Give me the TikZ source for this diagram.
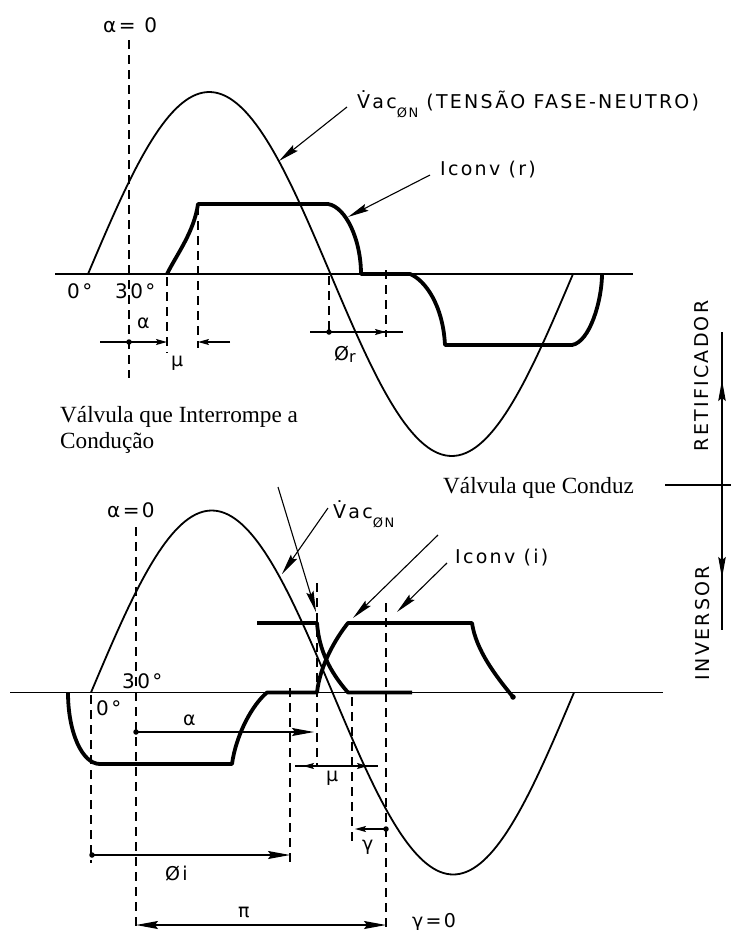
\documentclass[tikz,border=0pt]{standalone}
\usepackage{fontspec}
\setmainfont{Liberation Serif}
\newfontfamily\lett[LetterSpace=12]{DejaVu Sans}
\usetikzlibrary{arrows.meta}
\newcommand\subON{\raisebox{-9pt}{\fontsize{13}{13}\selectfont ØN}}
\tikzset{
  axisline/.style={line width=1.3pt},
  wave/.style={line width=1.8pt},
  cur/.style={line width=3.8pt, line join=round},
  dline/.style={line width=1.2pt, dash pattern=on 9pt off 6pt},
  dimline/.style={line width=1.2pt},
  lead/.style={line width=1.1pt, -{Stealth[length=21pt,width=7.5pt,inset=3pt]}},
  arrS/.style={line width=1.2pt, -{Stealth[length=11pt,width=6pt,inset=2pt]}},
  arrB/.style={line width=1.2pt, -{Stealth[length=22pt,width=8pt,inset=3pt]}},
  lbl/.style={font=\lett\fontsize{19}{22}\selectfont, inner sep=0pt, anchor=base west},
  txt/.style={font=\fontsize{23.2}{26}\selectfont, inner sep=0pt, anchor=base west},
  dotm/.style={circle, fill, inner sep=0pt, minimum size=5.5pt},
}
\begin{document}
\begin{tikzpicture}[x=1pt,y=-1pt]
\useasboundingbox (0,0) rectangle (731,930);

% ================= TOP (RETIFICADOR) =================
\coordinate (ta1) at (55,274); \coordinate (ta2) at (633,274);
\draw[axisline] (ta1) -- (ta2);
\draw[wave] plot[domain=0:360,samples=145] ({88+1.347222*\x},{274-182*sin(\x)});
\draw[cur] (167,274) .. controls (177,254) and (194,232) .. (198,204)
  -- (328,204) .. controls (346,207) and (361,240) .. (361,274)
  -- (410,274) .. controls (425,280) and (443,305) .. (445,345)
  -- (572,345) .. controls (590,342) and (602,300) .. (602,274);
% dashed
\coordinate (da1) at (129,40);  \coordinate (da2) at (129,378);
\coordinate (db1) at (167,277); \coordinate (db2) at (167,353);
\coordinate (dc1) at (198,206); \coordinate (dc2) at (198,348);
\coordinate (dd1) at (329,276); \coordinate (dd2) at (329,331);
\coordinate (de1) at (386,270); \coordinate (de2) at (386,337);
\foreach \a/\b in {da1/da2,db1/db2,dc1/dc2,dd1/dd2,de1/de2} \draw[dline] (\a) -- (\b);
% dimensions
\coordinate (al1) at (100,342); \coordinate (al0) at (129,342); \coordinate (al2) at (167,342);
\draw[dimline] (al1) -- (al0);
\draw[arrS] (al0) -- (al2);
\node[dotm] (alD) at (al0) {};
\coordinate (mu1) at (230,342); \coordinate (mu2) at (198,342);
\draw[arrS] (mu1) -- (mu2);
\coordinate (fr1) at (310,332); \coordinate (fr0) at (329,332); \coordinate (fr2) at (386,332); \coordinate (fr3) at (403,332);
\draw[dimline] (fr1) -- (fr3);
\draw[arrS] (fr0) -- (fr2);
\node[dotm] (frD) at (fr0) {};
% labels
\node[lbl, font=\lett\fontsize{20}{22}\selectfont] (alz) at (103,32) {α= 0};
\node[lbl, font=\lett\fontsize{20}{22}\selectfont] (z0) at (67,298) {0°};
\node[lbl, font=\lett\fontsize{20}{22}\selectfont] (z30) at (115,298) {30°};
\node[lbl] (alT) at (137,328) {α};
\node[lbl] (muT) at (171,366) {μ};
\node[lbl] (frT) at (334,360) {Ø\raisebox{-2pt}{\fontsize{16}{16}\selectfont r}};
\node[lbl] (vacT) at (357,108) {V̇ac\subON\hspace{8pt}(TENSÃO FASE-NEUTRO)};
\node[lbl] (icr) at (440,175) {Iconv (r)};
\coordinate (l1s) at (347,107); \coordinate (l1e) at (279,161);
\draw[lead] (l1s) -- (l1e);
\coordinate (l2s) at (430,175); \coordinate (l2e) at (348,217);
\draw[lead] (l2s) -- (l2e);

% ================= TEXTS =================
\node[txt] (t1) at (60,422) {Válvula que Interrompe a};
\node[txt] (t2) at (60,448) {Condução};
\node[txt] (t3) at (443,493) {Válvula que Conduz};

% ================= RIGHT ARROWS =================
\coordinate (h1) at (665,485); \coordinate (h2) at (731,485);
\draw[axisline] (h1) -- (h2);
\coordinate (v1) at (722,332); \coordinate (v2) at (722,630);
\draw[axisline] (v1) -- (v2);
\coordinate (vu0) at (722,420); \coordinate (vu) at (722,380);
\draw[lead] (vu0) -- (vu);
\coordinate (vd0) at (722,540); \coordinate (vd) at (722,578);
\draw[lead] (vd0) -- (vd);
\node[lbl, anchor=center, rotate=90] (ret) at (702,376) {RETIFICADOR};
\node[lbl, anchor=center, rotate=90] (inv) at (703,623) {INVERSOR};

% ================= BOTTOM (INVERSOR) =================
\coordinate (ba1) at (10,692.5); \coordinate (ba2) at (663,692.5);
\draw[axisline] (ba1) -- (ba2);
\draw[wave] plot[domain=0:360,samples=145] ({91+1.341667*\x},{692.5-182*sin(\x)});
\draw[cur] (68,692.5) .. controls (68,732) and (82,764) .. (100,764)
  -- (232,764) .. controls (236,735) and (252,705) .. (267,692.5)
  -- (317,692.5) .. controls (320,665) and (336,638) .. (348,623)
  -- (472,623) .. controls (476,650) and (495,675) .. (513,697);
\draw[cur] (257,623) -- (317,623) .. controls (319,650) and (330,672) .. (348,692.5) -- (412,692.5);
\node[dotm] (endD) at (513,697) {};
% dashed
\coordinate (ea1) at (91,695);  \coordinate (ea2) at (91,863);
\coordinate (eb1) at (136,527); \coordinate (eb2) at (136,930);
\coordinate (ec1) at (290,688); \coordinate (ec2) at (290,863);
\coordinate (ed1) at (317,583); \coordinate (ed2) at (317,767);
\coordinate (ee1) at (352,697); \coordinate (ee2) at (352,845);
\coordinate (ef1) at (386,603); \coordinate (ef2) at (386,930);
\foreach \a/\b in {ea1/ea2,eb1/eb2,ec1/ec2,ed1/ed2,ee1/ee2,ef1/ef2} \draw[dline] (\a) -- (\b);
% dimensions
\coordinate (ba0) at (136,732); \coordinate (baE) at (314,732);
\draw[arrB] (ba0) -- (baE);
\node[dotm] (baD) at (ba0) {};
\coordinate (bm1) at (295,766); \coordinate (bm2) at (378,766);
\coordinate (bmL) at (303,766); \coordinate (bmR) at (368,766);
\draw[dimline] (bm1) -- (bm2);
\draw[arrS, {Stealth[length=11pt,width=6pt,inset=2pt]}-{Stealth[length=11pt,width=6pt,inset=2pt]}] (bmL) -- (bmR);
\coordinate (bg0) at (386,829); \coordinate (bgE) at (355,829);
\draw[arrS] (bg0) -- (bgE);
\node[dotm] (bgD) at (bg0) {};
\coordinate (bf0) at (92,855); \coordinate (bfE) at (290,855);
\draw[arrB] (bf0) -- (bfE);
\node[dotm] (bfD) at (bf0) {};
\coordinate (bp1) at (136,925); \coordinate (bp2) at (386,925);
\draw[arrB, {Stealth[length=22pt,width=8pt,inset=3pt]}-{Stealth[length=22pt,width=8pt,inset=3pt]}] (bp1) -- (bp2);
% labels
\node[lbl, font=\lett\fontsize{20}{22}\selectfont] (balz) at (107,517) {α=0};
\node[lbl, font=\lett\fontsize{20}{22}\selectfont] (bz30) at (122,688) {30°};
\node[lbl, font=\lett\fontsize{20}{22}\selectfont] (bz0) at (96,715) {0°};
\node[lbl] (balT) at (183,725) {α};
\node[lbl] (bmuT) at (326,781) {μ};
\node[lbl] (bgT) at (362,850) {γ};
\node[lbl] (bfT) at (165,880) {Øi};
\node[lbl] (bpT) at (238,917) {π};
\node[lbl] (bg0T) at (412,927) {γ=0};
\node[lbl] (vacB) at (333,518) {V̇ac\subON};
\node[lbl] (ici) at (455,563) {Iconv (i)};
% leaders
\coordinate (m1s) at (278,487); \coordinate (m1e) at (316,612);
\draw[lead] (m1s) -- (m1e);
\coordinate (m2s) at (328,508); \coordinate (m2e) at (282,574);
\draw[lead] (m2s) -- (m2e);
\coordinate (m3s) at (438,535); \coordinate (m3e) at (353,618);
\draw[lead] (m3s) -- (m3e);
\coordinate (m4s) at (447,563); \coordinate (m4e) at (397,612);
\draw[lead] (m4s) -- (m4e);
\end{tikzpicture}
\end{document}
